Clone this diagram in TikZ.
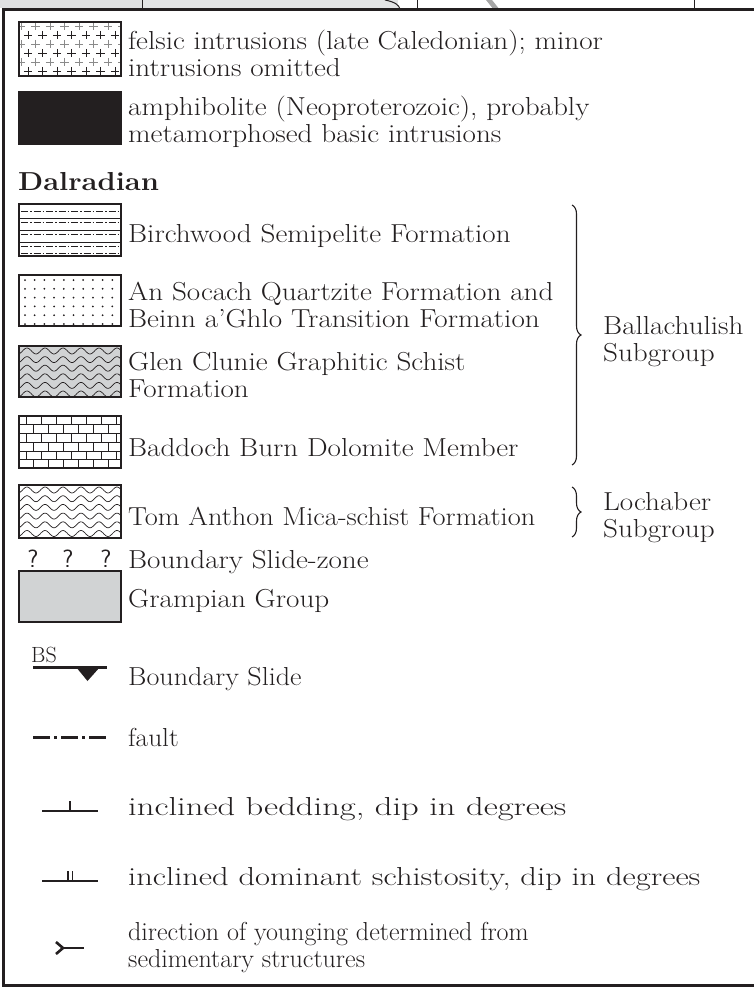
\documentclass[tikz,border=0pt]{standalone}
\usepackage{fontspec}
\usepackage{graphicx}
\usetikzlibrary{decorations.pathreplacing}
\definecolor{ink}{HTML}{231F20}
\definecolor{fillgrey}{HTML}{D1D3D4}
\definecolor{lightcross}{HTML}{8A8A8A}
\newcommand\lgdfont{\fontsize{26}{27}\selectfont}
\newcommand\sx[1]{\scalebox{1.12}[1]{#1}}
\newcommand\sxx[2]{\scalebox{#1}[1]{#2}}
\begin{document}
\begin{tikzpicture}[x=1pt,y=-1pt,
  lbl/.style={anchor=base west, inner sep=0pt, font=\lgdfont, text=ink, align=left},
  swatch/.style={draw=ink, line width=1.6pt},
  frame/.style={draw=ink, line width=3pt},
  bracestyle/.style={draw=ink, line width=1.1pt, decorate, decoration={brace, amplitude=9pt}},
  wave/.style={draw=ink, line width=0.7pt},
  symline/.style={draw=ink, line width=1.6pt}
]
\useasboundingbox (0,0) rectangle (754,987);
% ---- fragment of map above the legend
\fill[fillgrey!70] (0,0) rectangle (142,8.5);
\begin{scope}
\clip (0,0) rectangle (142,8.5);
\foreach \k in {0,...,15} {\draw[ink, line width=0.5pt] (4+9.5*\k,9) arc (180:0:4.5);}
\end{scope}
\fill[fillgrey!60] (142,0) rectangle (398,8.5);
\begin{scope}
\clip (142,0) rectangle (398,8.5);
\foreach \k in {0,...,26} {\draw[ink!70, line width=0.5pt] (144+9.5*\k,9) arc (180:0:4.5);}
\end{scope}
\draw[ink, line width=1pt] (385,0) .. controls (395,2) and (399,5) .. (400,9);
\draw[ink, line width=1pt] (142,0) -- (142,10);
\draw[ink, line width=1pt] (417,0) -- (417,10);
\fill[gray!70] (486,0) -- (492,0) -- (500,10) -- (494,10) -- cycle;
\draw[ink, line width=1pt] (694,0) -- (694,10);
% ---- frame
\draw[frame] (754,10) -- (3,10) -- (3,985) -- (754,985);

% ---- box 1 felsic intrusions
\begin{scope}
\clip (19,22) rectangle (121,76);
\foreach \r/\c/\o in {0/lightcross/0, 1/ink/7, 2/lightcross/0, 3/ink/7, 4/lightcross/0, 5/ink/7, 6/lightcross/0} {
  \pgfmathsetmacro\yy{26+9*\r}
  \foreach \k in {0,...,8} {
    \draw[\c, line width=0.9pt] ({21+\o+14.5*\k-4.2},\yy) -- ++(8.4,0) ({21+\o+14.5*\k},{\yy-4.2}) -- ++(0,8.4);
  }
}
\end{scope}
\draw[swatch] (19,22) rectangle (121,76);
\node[lbl] (t1) at (128,77) {\sx{felsic intrusions (late Caledonian); minor}\\\sx{intrusions omitted}};

% ---- box 2 amphibolite
\fill[ink] (19,92) rectangle (121,144);
\draw[swatch] (19,92) rectangle (121,144);
\node[lbl] (t2) at (128,143) {\sx{amphibolite (Neoproterozoic), probably}\\\sx{metamorphosed basic intrusions}};

\node[lbl, font=\lgdfont\bfseries] (dal) at (18,190) {\sx{Dalradian}};

% ---- box 3 Birchwood
\begin{scope}
\clip (19,204) rectangle (121,256);
\foreach \yy in {218,230,242} {\draw[ink, line width=0.7pt] (19,\yy) -- (121,\yy);}
\foreach \yy in {211,222,234,246,253} {\draw[ink, line width=0.8pt, dash pattern=on 7pt off 2pt on 1.5pt off 2pt] (21,\yy) -- (121,\yy);}
\end{scope}
\draw[swatch] (19,204) rectangle (121,256);
\node[lbl] (t3) at (128,242) {\sx{Birchwood Semipelite Formation}};

% ---- box 4 An Socach
\begin{scope}
\clip (19,275) rectangle (121,326);
\foreach \r in {0,...,5} {
  \foreach \k in {0,...,10} {\fill[ink] ({25+9.7*\k},{280+8.8*\r}) circle (1.0);}
}
\end{scope}
\draw[swatch] (19,275) rectangle (121,326);
\node[lbl] (t4) at (128,327) {\sx{An Socach Quartzite Formation and}\\\sx{Beinn a'Ghlo Transition Formation}};

% ---- box 5 Glen Clunie
\fill[fillgrey] (19,346) rectangle (121,397);
\begin{scope}
\clip (19,346) rectangle (121,397);
\foreach \r in {0,...,5} {
  \pgfmathsetmacro\yy{351+8.6*\r}
  \draw[wave] plot[domain=15:125, samples=90, smooth] (\x, {\yy + 3*cos(\x*20)});
}
\end{scope}
\draw[swatch] (19,346) rectangle (121,397);
\node[lbl] (t5) at (128,397) {\sx{Glen Clunie Graphitic Schist}\\\sx{Formation}};

% ---- box 6 Baddoch Burn
\begin{scope}
\clip (19,416) rectangle (121,468);
\foreach \r in {1,...,5} {\draw[ink, line width=0.6pt] (19,{416+8.7*\r}) -- (121,{416+8.7*\r});}
\foreach \r in {0,...,5} {
  \pgfmathsetmacro\yy{416+8.7*\r}
  \pgfmathsetmacro\off{mod(\r,2)*7.5}
  \foreach \k in {0,...,7} {\draw[ink, line width=0.6pt] ({26+\off+15*\k},\yy) -- ++(0,8.7);}
}
\end{scope}
\draw[swatch] (19,416) rectangle (121,468);
\node[lbl] (t6) at (128,456) {\sx{Baddoch Burn Dolomite Member}};

% ---- box 7 Tom Anthon
\begin{scope}
\clip (19,485) rectangle (121,538);
\foreach \r in {0,...,5} {
  \pgfmathsetmacro\yy{490+8.7*\r}
  \draw[wave] plot[domain=15:125, samples=90, smooth] (\x, {\yy + 3*cos(\x*20)});
}
\end{scope}
\draw[swatch] (19,485) rectangle (121,538);
\node[lbl] (t7) at (128,525) {\sxx{1.09}{Tom Anthon Mica-schist Formation}};

% ---- boundary slide-zone
\foreach \xx/\n in {33/q1,68/q2,106/q3} {\node[anchor=base, inner sep=0pt, text=ink, font=\fontsize{25}{27}\selectfont\sffamily] (\n) at (\xx,567) {?};}
\node[lbl] (t8) at (128,568) {\sx{Boundary Slide-zone}};

% ---- Grampian Group
\fill[fillgrey] (19,571) rectangle (121,622);
\draw[swatch] (19,571) rectangle (121,622);
\node[lbl] (t9) at (128,607) {\sx{Grampian Group}};

% ---- Boundary Slide symbol
\node[anchor=base west, inner sep=0pt, text=ink, font=\fontsize{22}{24}\selectfont] (bs) at (31,662) {BS};
\draw[ink, line width=3pt] (33,667) -- (107,667);
\fill[ink] (76,667) -- (100,667) -- (87.5,681) -- cycle;
\node[lbl] (t10) at (128,685) {\sxx{1.08}{Boundary Slide}};

% ---- fault
\draw[ink, line width=3pt, dash pattern=on 17pt off 4pt on 3pt off 4pt] (33,737) -- (107,737);
\node[lbl] (t11) at (128,746) {\sxx{1.05}{fault}};

% ---- bedding
\draw[symline] (42,811) -- (98,811);
\draw[symline] (70,811) -- (70,801);
\node[lbl] (t12) at (128,815) {\sxx{1.33}{inclined bedding, dip in degrees}};

% ---- schistosity
\draw[symline] (42,881) -- (98,881);
\draw[symline] (68,881) -- (68,871) (72.5,881) -- (72.5,871);
\node[lbl] (t13) at (128,885) {\sxx{1.25}{inclined dominant schistosity, dip in degrees}};

% ---- younging
\draw[ink, line width=2.6pt] (56,942) -- (63,948) -- (56,954);
\draw[ink, line width=2.6pt] (63,948) -- (84,948);
\node[lbl] (t14) at (128,967) {\sxx{1.0}{direction of younging determined from}\\\sxx{1.0}{sedimentary structures}};

% ---- braces
\draw[bracestyle] (572,205) -- (572,465);
\node[lbl] (ball) at (603,361) {\sx{Ballachulish}\\\sx{Subgroup}};
\draw[bracestyle] (572,487) -- (572,537);
\node[lbl] (loch) at (603,537) {\sx{Lochaber}\\\sx{Subgroup}};
\end{tikzpicture}
\end{document}
